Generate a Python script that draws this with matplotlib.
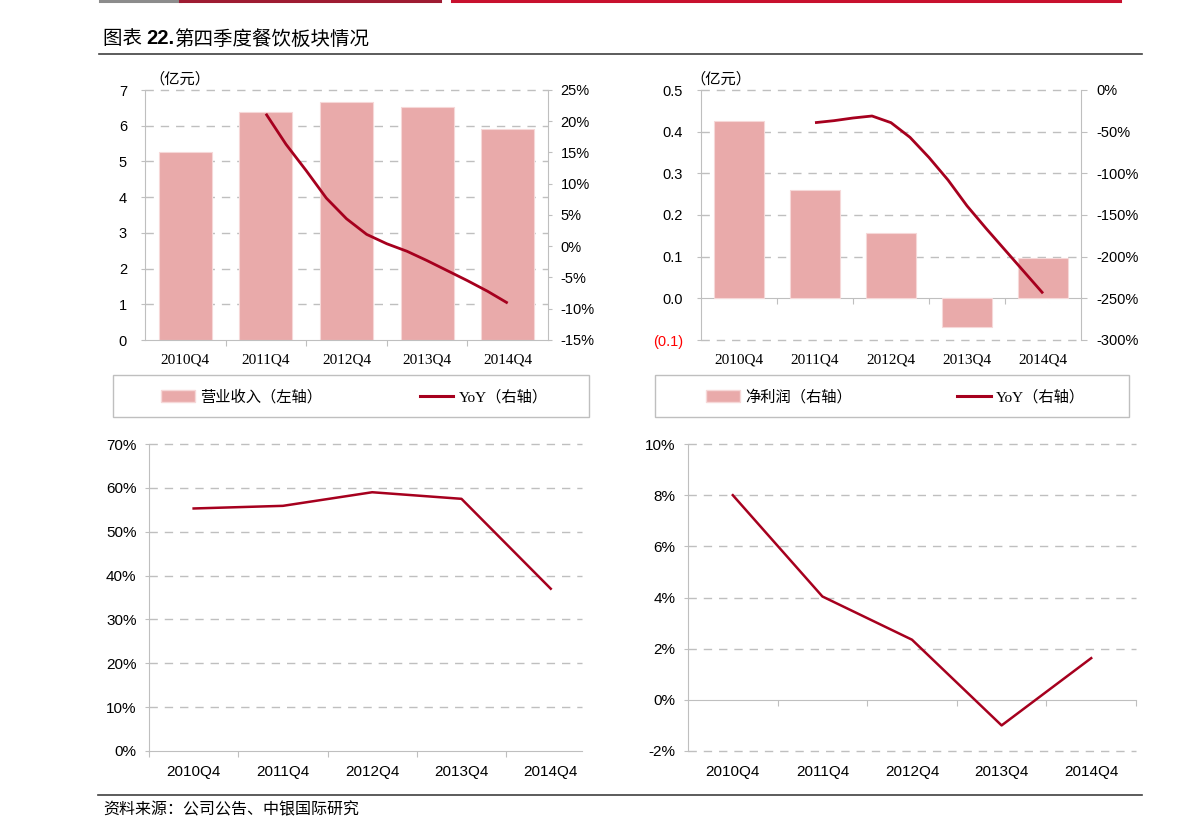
import numpy as np
import matplotlib
matplotlib.use('Agg')
import matplotlib.pyplot as plt
from matplotlib import font_manager as fm
from matplotlib.patches import Rectangle, Patch
from matplotlib.lines import Line2D

# ---------------- data ----------------
categories = ['2010Q4', '2011Q4', '2012Q4', '2013Q4', '2014Q4']
revenue = [5.26, 6.38, 6.66, 6.52, 5.91]            # 亿元
yoy_quarters = ['2011Q4', '2012Q1', '2012Q2', '2012Q3', '2012Q4', '2013Q1', '2013Q2',
                '2013Q3', '2013Q4', '2014Q1', '2014Q2', '2014Q3', '2014Q4']
revenue_yoy = [21.2, 16.3, 12.1, 7.7, 4.4, 1.9, 0.4, -0.8, -2.3, -3.9, -5.5, -7.2, -9.1]
net_profit = [0.425, 0.26, 0.157, -0.069, 0.097]   # 亿元
net_profit_yoy = [-39.2, -36.8, -33.6, -31.2, -39.2, -56.8, -81, -108, -139, -166, -192, -218, -244]
gross_margin = [55.3, 55.9, 59.0, 57.5, 37.0]
net_margin = [8.0, 4.04, 2.35, -1.0, 1.63]

left_ticks_rev = [0, 1, 2, 3, 4, 5, 6, 7]
right_ticks_rev = [-15, -10, -5, 0, 5, 10, 15, 20, 25]
left_ticks_np = [-0.1, 0.0, 0.1, 0.2, 0.3, 0.4, 0.5]
right_ticks_np = [-300, -250, -200, -150, -100, -50, 0]
ticks_gm = [0, 10, 20, 30, 40, 50, 60, 70]
ticks_nm = [-2, 0, 2, 4, 6, 8, 10]

# ---------------- style ----------------
W, H = 1191, 840
BAR = '#E9AAAA'
BAR_EDGE = '#F6D8D8'
LINE = '#A6001E'
GRID = '#BFBFBF'
names = {f.name for f in fm.fontManager.ttflist}
SANS = 'Liberation Sans'
NARROW = 'Liberation Sans Narrow' if 'Liberation Sans Narrow' in names else 'Liberation Sans'
SERIF = 'Liberation Serif'
CJK = 'Noto Sans CJK SC'
MIX_SERIF = [SERIF, CJK]
DASH = (0, (6, 5))

def fx(px):
    return px / W

def fy(py):
    return 1 - py / H

def rect(x0, y0, x1, y1):
    return [fx(x0), fy(y1), (x1 - x0) / W, (y1 - y0) / H]

def qpos(q):
    return int(q[:4]) - 2011 + int(q[-1]) / 4

fig = plt.figure(figsize=(W / 100, H / 100), dpi=100)
fig.patch.set_facecolor('white')

x = np.arange(len(categories))
boundaries = [0.5, 1.5, 2.5, 3.5]
ypos = [qpos(q) for q in yoy_quarters]

def base_style(ax, left=True, right=False):
    for s in ['top', 'right', 'left', 'bottom']:
        ax.spines[s].set_visible(False)
    if left:
        ax.spines['left'].set_visible(True)
        ax.spines['left'].set_color(GRID)
    if right:
        ax.spines['right'].set_visible(True)
        ax.spines['right'].set_color(GRID)

def grid_lines(ax, vals, skip):
    for v in vals:
        if v == skip:
            continue
        ax.axhline(v, color=GRID, lw=1, ls=DASH, zorder=0.5, clip_on=False)

def cat_labels(ax, fam, size, pad):
    ax.set_xticks(x, minor=True)
    ax.set_xticklabels(categories, minor=True, fontfamily=fam, fontsize=size)
    ax.tick_params(axis='x', which='minor', length=0, pad=pad)

def zero_axis(ax, frac, ticks):
    sec = ax.secondary_xaxis(frac)
    sec.spines['bottom'].set_color(GRID)
    sec.set_xticks(ticks)
    sec.set_xticklabels([''] * len(ticks))
    sec.tick_params(axis='x', direction='out', length=4, color=GRID)
    return sec

# ---------------- top-left: revenue ----------------
ax1 = fig.add_axes(rect(145, 90, 548, 340))
base_style(ax1, left=True)
ax1.spines['bottom'].set_visible(True)
ax1.spines['bottom'].set_color(GRID)
ax1.bar(x, revenue, width=0.66, color=BAR, edgecolor=BAR_EDGE, lw=0.8, zorder=2)
ax1.set_xlim(-0.5, 4.5)
ax1.set_ylim(0, 7)
ax1.set_yticks(left_ticks_rev)
ax1.set_yticklabels([str(v) for v in left_ticks_rev], fontfamily=SANS, fontsize=10.5)
ax1.tick_params(axis='y', direction='out', length=3, color=GRID, pad=10)
grid_lines(ax1, left_ticks_rev, 0)
ax1.set_xticks(boundaries)
ax1.set_xticklabels([''] * 4)
ax1.tick_params(axis='x', which='major', direction='out', length=4, color=GRID)
cat_labels(ax1, SERIF, 11, 10)
ax1.set_facecolor('none')
ax1b = ax1.twinx()
base_style(ax1b, left=False, right=True)
ax1b.plot(ypos, revenue_yoy, color=LINE, lw=2.0, zorder=3, solid_capstyle='butt')
ax1b.set_ylim(-15, 25)
ax1b.set_yticks(right_ticks_rev)
ax1b.set_yticklabels([f'{v}%' for v in right_ticks_rev], fontfamily=SANS, fontsize=10.5)
ax1b.tick_params(axis='y', direction='out', length=3, color=GRID, pad=6)
fig.text(fx(149), fy(79), '（亿元）', family=CJK, fontsize=11, va='center', ha='left')

# ---------------- top-right: net profit ----------------
ax2 = fig.add_axes(rect(701, 90, 1081, 340))
base_style(ax2, left=True)
ax2.bar(x, net_profit, width=0.66, color=BAR, edgecolor=BAR_EDGE, lw=0.8, zorder=2)
ax2.set_xlim(-0.5, 4.5)
ax2.set_ylim(-0.1, 0.5)
ax2.set_yticks(left_ticks_np)
lbls = ['(0.1)' if v < 0 else f'{v:.1f}' for v in left_ticks_np]
ax2.set_yticklabels(lbls, fontfamily=SANS, fontsize=10.5)
for t, v in zip(ax2.get_yticklabels(), left_ticks_np):
    if v < 0:
        t.set_color('#FF0000')
ax2.tick_params(axis='y', direction='out', length=3, color=GRID, pad=10)
grid_lines(ax2, left_ticks_np, 0.0)
ax2.set_xticks([])
cat_labels(ax2, SERIF, 11, 10)
zero_axis(ax2, (0 - (-0.1)) / 0.6, boundaries)
ax2b = ax2.twinx()
base_style(ax2b, left=False, right=True)
ax2b.plot(ypos, net_profit_yoy, color=LINE, lw=2.0, zorder=3, solid_capstyle='butt')
ax2b.set_ylim(-300, 0)
ax2b.set_yticks(right_ticks_np)
ax2b.set_yticklabels([f'{v}%' for v in right_ticks_np], fontfamily=SANS, fontsize=10.5)
ax2b.tick_params(axis='y', direction='out', length=4, color=GRID, pad=7)
fig.text(fx(690), fy(79), '（亿元）', family=CJK, fontsize=11, va='center', ha='left')

# ---------------- bottom-left: gross margin ----------------
ax3 = fig.add_axes(rect(149, 444, 582, 751))
base_style(ax3, left=True)
ax3.spines['bottom'].set_visible(True)
ax3.spines['bottom'].set_color(GRID)
ax3.plot(x, gross_margin, color=LINE, lw=1.8, zorder=3)
ax3.set_xlim(-0.5, 4.35)
ax3.set_ylim(0, 70)
ax3.set_yticks(ticks_gm)
ax3.set_yticklabels([f'{v}%' for v in ticks_gm], fontfamily=NARROW, fontsize=11)
ax3.tick_params(axis='y', direction='out', length=3, color=GRID, pad=6)
grid_lines(ax3, ticks_gm, 0)
ax3.set_xticks([-0.5] + boundaries)
ax3.set_xticklabels([''] * 5)
ax3.tick_params(axis='x', which='major', direction='out', length=4, color=GRID)
cat_labels(ax3, NARROW, 11, 10)

# ---------------- bottom-right: net margin ----------------
ax4 = fig.add_axes(rect(688, 444, 1136, 751))
base_style(ax4, left=True)
ax4.plot(x, net_margin, color=LINE, lw=1.8, zorder=3)
ax4.set_xlim(-0.5, 4.5)
ax4.set_ylim(-2, 10)
ax4.set_yticks(ticks_nm)
ax4.set_yticklabels([f'{v}%' for v in ticks_nm], fontfamily=NARROW, fontsize=11)
ax4.tick_params(axis='y', direction='out', length=3, color=GRID, pad=6)
grid_lines(ax4, ticks_nm, 0)
ax4.set_xticks([])
cat_labels(ax4, NARROW, 11, 10)
zero_axis(ax4, 2 / 12, boundaries + [4.5])

# ---------------- legends ----------------
for (x0, x1) in [(113, 589), (655, 1129)]:
    fig.patches.append(Rectangle((fx(x0), fy(417)), (x1 - x0) / W, 42 / H,
                                 transform=fig.transFigure, fill=False,
                                 edgecolor=GRID, lw=1.0))

h_bar = Patch(facecolor=BAR, edgecolor=BAR_EDGE)
h_line = Line2D([], [], color=LINE, lw=2.2)
fig.legend([h_bar, h_line], ['营业收入（左轴）', 'YoY（右轴）'],
           loc='center left', bbox_to_anchor=(fx(161), fy(397)), ncol=2,
           frameon=False, borderpad=0, borderaxespad=0, handlelength=2.2,
           handleheight=0.8, handletextpad=0.35, columnspacing=6.4,
           prop={'family': MIX_SERIF, 'size': 11})
fig.legend([h_bar, h_line], ['净利润（右轴）', 'YoY（右轴）'],
           loc='center left', bbox_to_anchor=(fx(706), fy(397)), ncol=2,
           frameon=False, borderpad=0, borderaxespad=0, handlelength=2.2,
           handleheight=0.8, handletextpad=0.35, columnspacing=6.9,
           prop={'family': MIX_SERIF, 'size': 11})

# ---------------- title / decorations ----------------
fig.add_artist(Line2D([fx(100), fx(180)], [fy(1), fy(1)], color='#8C8C8C', lw=2.2, transform=fig.transFigure))
fig.add_artist(Line2D([fx(180), fx(440)], [fy(1), fy(1)], color='#9E1B32', lw=2.2, transform=fig.transFigure))
fig.add_artist(Line2D([fx(452), fx(1120)], [fy(1), fy(1)], color='#C8102E', lw=2.2, transform=fig.transFigure))
fig.add_artist(Line2D([fx(99), fx(1142)], [fy(54), fy(54)], color='#404040', lw=1.2, transform=fig.transFigure))
fig.add_artist(Line2D([fx(98), fx(1142)], [fy(795), fy(795)], color='#404040', lw=1.2, transform=fig.transFigure))

fig.canvas.draw()
renderer = fig.canvas.get_renderer()
t1 = fig.text(fx(103), fy(39), '图表 ', family=CJK, fontsize=14, va='center', ha='left')
bb = t1.get_window_extent(renderer)
t2 = fig.text(bb.x1 / W, fy(39), '22.', family=SANS, fontsize=14.5, weight='bold', va='center', ha='left')
bb2 = t2.get_window_extent(renderer)
fig.text(bb2.x1 / W, fy(39), '第四季度餐饮板块情况', family=CJK, fontsize=14, va='center', ha='left')

fig.text(fx(103), fy(810), '资料来源：公司公告、中银国际研究', family=CJK, fontsize=11.5,
         style='italic', va='center', ha='left')

fig.savefig('out.png', dpi=100, facecolor='white')
